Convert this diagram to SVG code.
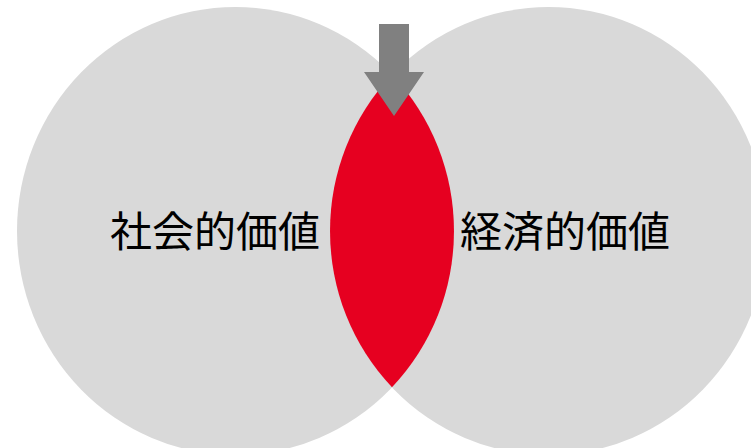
<svg xmlns="http://www.w3.org/2000/svg" width="751" height="448" viewBox="0 0 751 448">
<style>
.circle{fill:#D9D9D9;}
.lens{fill:#E60020;}
.arrow{fill:#808080;}
.label{font-family:"Noto Sans CJK JP","Noto Sans CJK SC",sans-serif;font-size:42px;fill:#000;}
</style>
<rect width="751" height="448" fill="#FFFFFF"/>
<g id="social">
<ellipse class="circle" cx="235.5" cy="231" rx="218.5" ry="224"/>
</g>
<g id="economic">
<ellipse class="circle" cx="548.5" cy="231" rx="218.5" ry="224"/>
</g>
<g id="overlap">
<path class="lens" d="M392 74.7 A218.5 224 0 0 1 392 387.3 A218.5 224 0 0 1 392 74.7 Z"/>
</g>
<g id="social-label">
<text class="label" x="110" y="247">社会的価値</text>
</g>
<g id="economic-label">
<text class="label" x="460" y="247">経済的価値</text>
</g>
<g id="connectors">
<path class="arrow" d="M379 24 H409 V72 H424 L394 116 L364 72 H379 Z"/>
</g>
</svg>
